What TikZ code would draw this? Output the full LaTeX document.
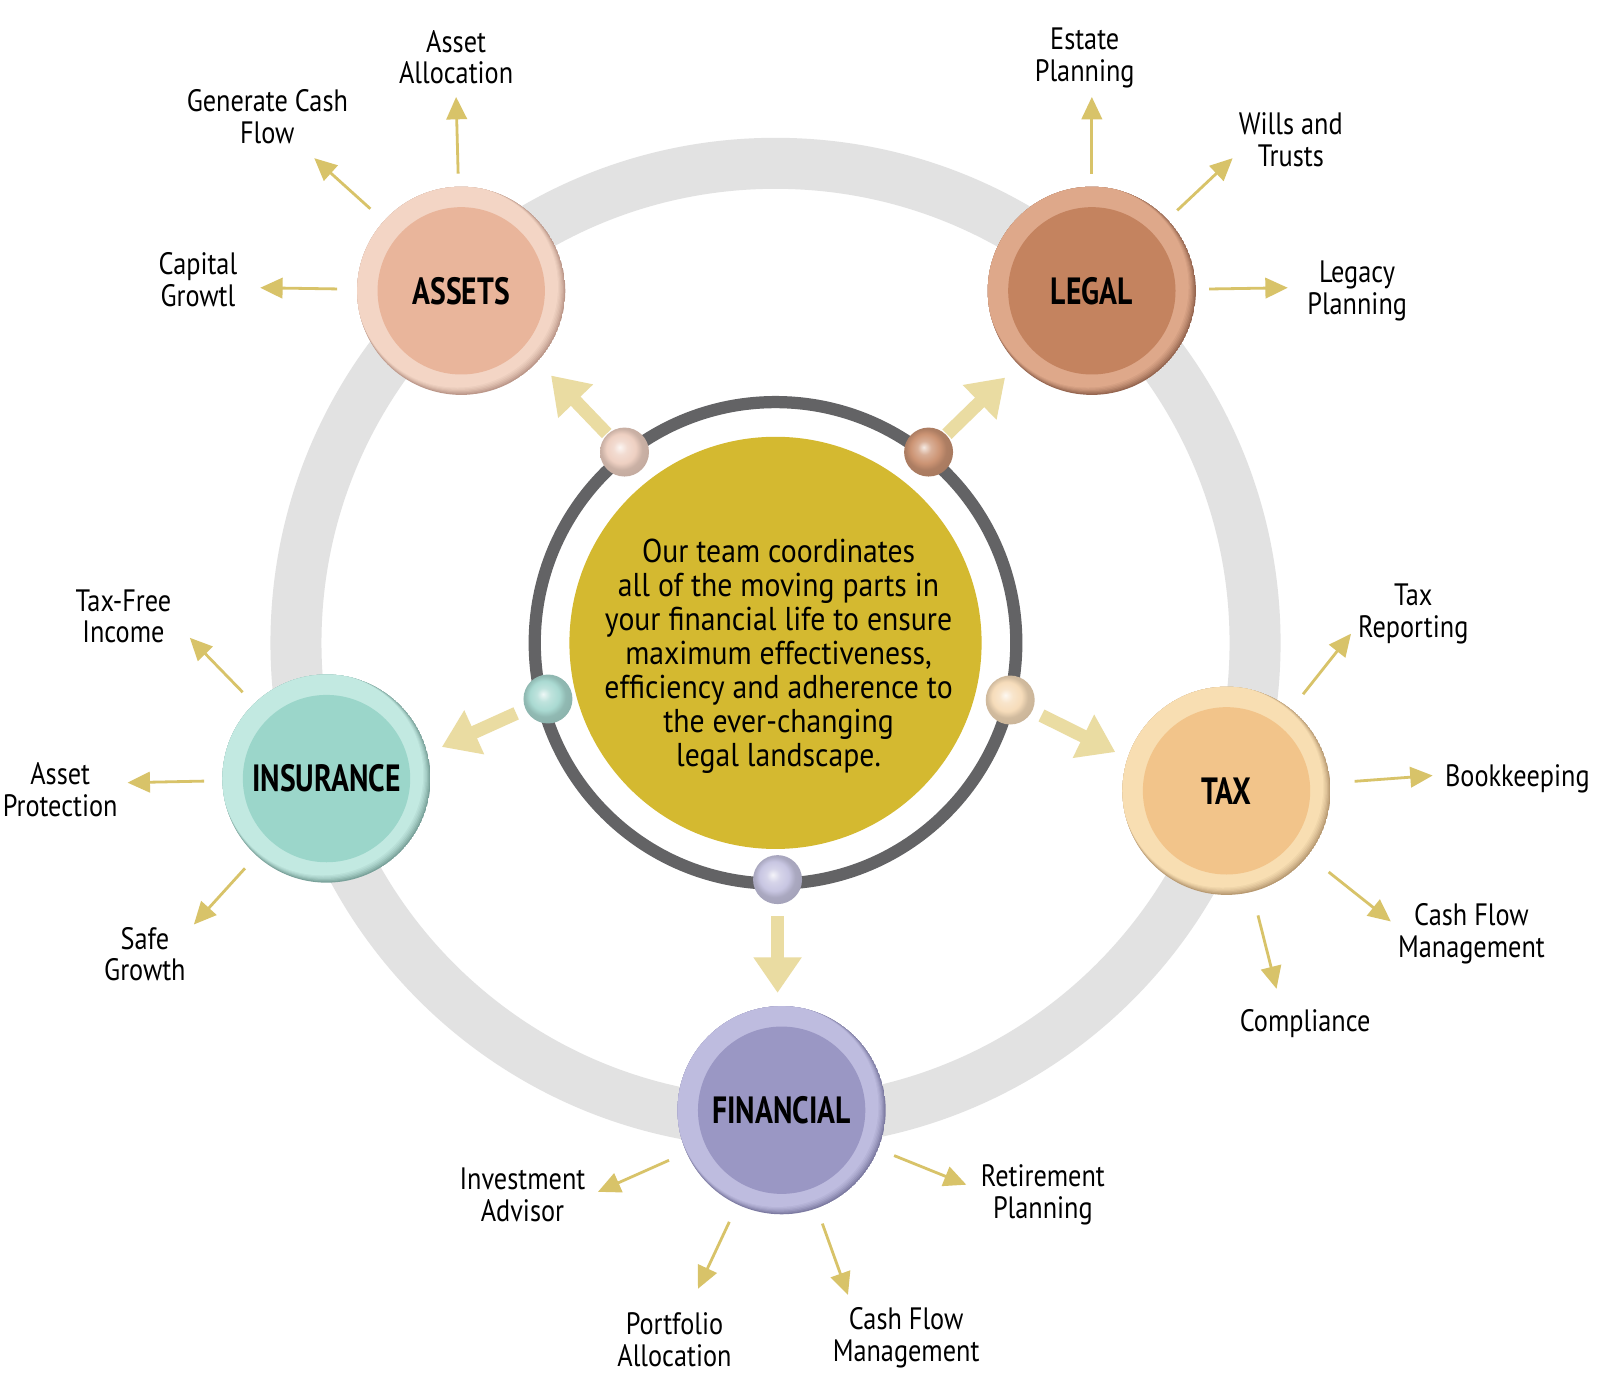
\documentclass[tikz,border=0pt]{standalone}
\usepackage{fontspec}
\setmainfont{PT Sans}[FakeStretch=0.85]
\newfontfamily\btnfont{PT Sans}[FakeStretch=0.78]
\newfontfamily\centrefont{PT Sans}[FakeStretch=0.9]
\usetikzlibrary{arrows.meta,calc}

\definecolor{ringgray}{RGB}{226,226,226}
\definecolor{darkring}{RGB}{99,99,101}
\definecolor{yellowc}{RGB}{212,185,48}
\definecolor{arrowpale}{RGB}{234,220,162}
\definecolor{arrowgold}{RGB}{216,195,105}
% buttons
\definecolor{asIn}{RGB}{233,181,155}
\definecolor{asRa}{RGB}{243,213,197}
\definecolor{asRb}{RGB}{188,152,138}
\definecolor{lgIn}{RGB}{196,131,95}
\definecolor{lgRa}{RGB}{222,168,138}
\definecolor{lgRb}{RGB}{150,102,80}
\definecolor{inIn}{RGB}{155,214,202}
\definecolor{inRa}{RGB}{194,233,225}
\definecolor{inRb}{RGB}{122,162,155}
\definecolor{txIn}{RGB}{242,196,138}
\definecolor{txRa}{RGB}{248,222,178}
\definecolor{txRb}{RGB}{185,155,115}
\definecolor{fnIn}{RGB}{154,151,196}
\definecolor{fnRa}{RGB}{190,188,223}
\definecolor{fnRb}{RGB}{125,123,162}
% balls
\definecolor{asBall}{RGB}{238,208,194}
\definecolor{lgBall}{RGB}{204,148,116}
\definecolor{inBall}{RGB}{170,218,210}
\definecolor{txBall}{RGB}{246,220,186}
\definecolor{fnBall}{RGB}{200,198,226}

\colorlet{ballc}{gray}
% visible disc of a radial shading is 25bp
\pgfdeclareradialshading[ballc]{softball}{\pgfpoint{-5bp}{5bp}}{color(0bp)=(ballc!20!white); color(7bp)=(ballc!75!white); color(15bp)=(ballc); color(21bp)=(ballc!85!black); color(28bp)=(ballc!82!black); color(50bp)=(ballc!82!black)}

\newcommand\ballnode[3]{\colorlet{ballc}{#3}\node[ballsty] (#1) at #2 {};}
\newcommand\button[6]{%
  \node[btnouter] (#1) at #2 {};
  \begin{scope}
    \clip (#1.center) circle[radius=2.602cm];
    \foreach \k/\p in {0/0,1/22,2/42,3/60,4/75,5/88,6/100}{
      \fill[#5!\p!#6] ($(#1.center)+(-0.7*\k,-0.7*\k)$) circle[radius={2.602cm-0.0128cm*\k}];
    }
  \end{scope}
  \fill[#4] (#1.center) circle[radius=2.092cm];
  \node[btntext] (#1-t) at (#1.center) {#3};}

\begin{document}
\begin{tikzpicture}[x=0.02551cm,y=-0.02551cm,
  ballsty/.style={circle, minimum size=1.2245cm, inner sep=0pt, outer sep=0pt, shade, shading=softball},
  btnouter/.style={circle, minimum size=5.204cm, inner sep=0pt, outer sep=0pt},
  btntext/.style={font=\btnfont\bfseries\fontsize{27}{30}\selectfont, inner sep=0pt},
  lab/.style={font=\fontsize{22}{22.6}\selectfont, align=center, inner sep=1pt},
  sarrow/.style={draw=arrowgold, line width=0.07cm, shorten <=0.46cm, -{Triangle[length=0.56cm,width=0.51cm]}},
  barrow/.style={draw=arrowpale, line width=0.332cm, -{Triangle[length=0.89cm,width=1.15cm]}}
]
\useasboundingbox (0,0) rectangle (1568,1355.3);
\fill[white] (0,0) rectangle (1568,1355.3);

\coordinate (O) at (760,630);
\draw[ringgray, line width=1.2755cm] (O) circle[radius=11.99cm];
\draw[darkring, line width=0.306cm] (O) circle[radius=6.02cm];
\fill[yellowc] (O) circle[radius=5.153cm];
\node[font=\centrefont\fontsize{23.5}{24.2}\selectfont, align=center, inner sep=0pt] (centre) at (763,643)
 {Our team coordinates\\all of the moving parts in\\your financial life to ensure\\maximum effectiveness,\\efficiency and adherence to\\the ever-changing\\legal landscape.};

% balls on the dark ring
\ballnode{ballA}{(612,443)}{asBall}
\ballnode{ballL}{(910,443)}{lgBall}
\ballnode{ballI}{(537,685)}{inBall}
\ballnode{ballT}{(990,686)}{txBall}
\ballnode{ballF}{(762,862)}{fnBall}

% big arrows
\coordinate (bA) at (540,368);
\coordinate (bL) at (985,370);
\coordinate (bI) at (433,732);
\coordinate (bT) at (1093,737);
\coordinate (bF) at (762,973);
\draw[barrow, shorten <=0.03cm] (ballA) -- (bA);
\draw[barrow, shorten <=0.03cm] (ballL) -- (bL);
\draw[barrow, shorten <=0.26cm] (ballI) -- (bI);
\draw[barrow, shorten <=0.26cm] (ballT) -- (bT);
\draw[barrow, shorten <=0.3cm] (ballF) -- (bF);

% buttons
\button{assets}{(452,285)}{ASSETS}{asIn}{asRa}{asRb}
\button{legal}{(1070,285)}{LEGAL}{lgIn}{lgRa}{lgRb}
\button{insurance}{(320,763)}{INSURANCE}{inIn}{inRa}{inRb}
\button{tax}{(1202,775)}{TAX}{txIn}{txRa}{txRb}
\button{financial}{(766,1088)}{FINANCIAL}{fnIn}{fnRa}{fnRb}

% labels
\node[lab] (aa) at (447,56) {Asset\\Allocation};
\node[lab] (gcf) at (262,114) {Generate Cash\\Flow};
\node[lab] (cg) at (194,274) {Capital\\Growtl};
\node[lab] (ep) at (1063,57) {Estate\\Planning};
\node[lab] (wt) at (1265,137) {Wills and\\Trusts};
\node[lab] (lp) at (1330,285) {Legacy\\Planning};
\node[lab] (tf) at (121,604) {Tax-Free\\Income};
\node[lab] (ap) at (59,774) {Asset\\Protection};
\node[lab] (sg) at (142,935) {Safe\\Growth};
\node[lab] (tr) at (1385,602) {Tax\\Reporting};
\node[lab] (bk) at (1487,763) {Bookkeeping};
\node[lab] (cfm) at (1442,915) {Cash Flow\\Management};
\node[lab] (co) at (1279,1003) {Compliance};
\node[lab] (ia) at (512,1171) {Investment\\Advisor};
\node[lab] (rp) at (1022,1171) {Retirement\\Planning};
\node[lab] (pa) at (661,1313) {Portfolio\\Allocation};
\node[lab] (cfm2) at (888,1311) {Cash Flow\\Management};

% small arrow tips
\coordinate (aa-t) at (447,95);
\coordinate (gcf-t) at (308,155);
\coordinate (cg-t) at (255,282);
\coordinate (ep-t) at (1070,95);
\coordinate (wt-t) at (1208,155);
\coordinate (lp-t) at (1262,282);
\coordinate (tf-t) at (186,625);
\coordinate (ap-t) at (125,767);
\coordinate (sg-t) at (190,906);
\coordinate (tr-t) at (1324,621);
\coordinate (bk-t) at (1404,760);
\coordinate (cfm-t) at (1363,903);
\coordinate (co-t) at (1251,969);
\coordinate (ia-t) at (586,1168);
\coordinate (rp-t) at (947,1161);
\coordinate (pa-t) at (684,1263);
\coordinate (cfm2-t) at (831,1269);

\draw[sarrow, shorten <=0.33cm] (assets) -- (aa-t);
\draw[sarrow] (assets) -- (gcf-t);
\draw[sarrow, shorten <=0.5cm] (assets) -- (cg-t);
\draw[sarrow, shorten <=0.33cm] (legal) -- (ep-t);
\draw[sarrow, shorten <=0.33cm] (legal) -- (wt-t);
\draw[sarrow, shorten <=0.33cm] (legal) -- (lp-t);
\draw[sarrow, shorten <=0.41cm] (insurance) -- (tf-t);
\draw[sarrow] (insurance) -- (ap-t);
\draw[sarrow, shorten <=0.43cm] (insurance) -- (sg-t);
\draw[sarrow, shorten <=0.48cm] (tax) -- (tr-t);
\draw[sarrow, shorten <=0.61cm] (tax) -- (bk-t);
\draw[sarrow, shorten <=0.66cm] (tax) -- (cfm-t);
\draw[sarrow, shorten <=0.61cm] (tax) -- (co-t);
\draw[sarrow, shorten <=0.48cm] (financial) -- (ia-t);
\draw[sarrow, shorten <=0.43cm] (financial) -- (rp-t);
\draw[sarrow, shorten <=0.48cm] (financial) -- (pa-t);
\draw[sarrow, shorten <=0.41cm] (financial) -- (cfm2-t);
\end{tikzpicture}
\end{document}
